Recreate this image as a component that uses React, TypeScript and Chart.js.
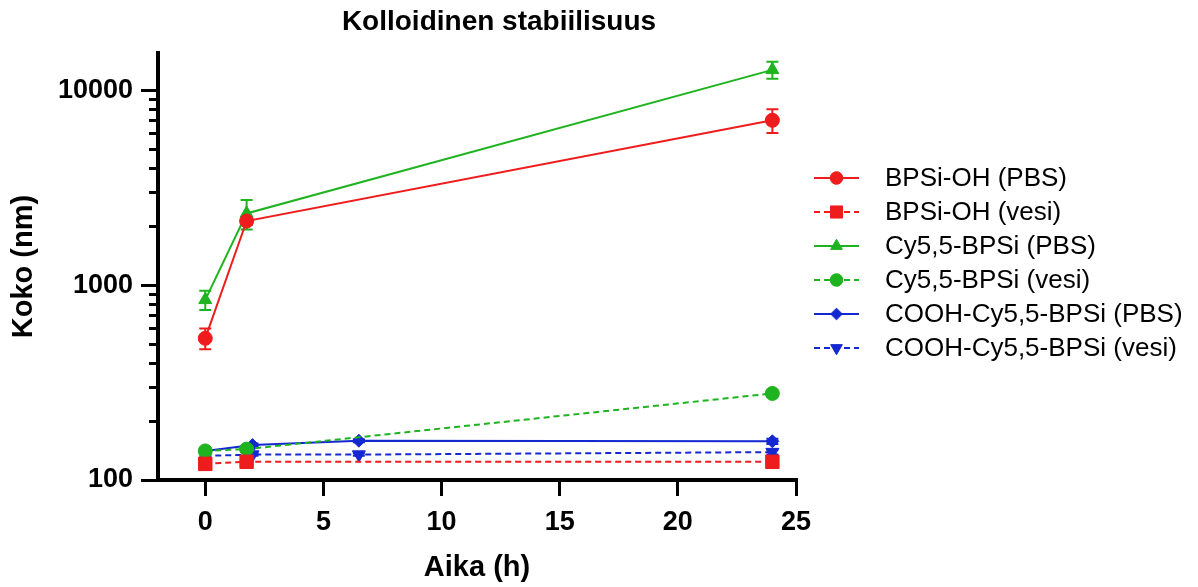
import React, { useEffect, useRef } from 'react';
import { Chart, registerables } from 'chart.js';
import { drawPoint } from 'chart.js/helpers';

Chart.register(...registerables);

// ---- data ----
const timesA = [0, 1.75, 24];
const timesB = [0, 2, 6.5, 24];

const bpsiOhPbs = [533, 2130, 7000];
const bpsiOhPbsErr = [65, 100, 980];
const bpsiOhVesi = [121, 124, 124];
const bpsiOhVesiErr = [3, 3, 3];
const cy55Pbs = [840, 2330, 12700];
const cy55PbsErr = [95, 400, 1280];
const cy55Vesi = [141, 144, 278];
const cy55VesiErr = [4, 4, 10];
const coohPbs = [141, 151, 159, 158];
const coohPbsErr = [2, 3, 3, 5];
const coohVesi = [133, 135, 135, 139];
const coohVesiErr = [2, 2, 2, 4];

const seriesLabels = [
  'BPSi-OH (PBS)',
  'BPSi-OH (vesi)',
  'Cy5,5-BPSi (PBS)',
  'Cy5,5-BPSi (vesi)',
  'COOH-Cy5,5-BPSi (PBS)',
  'COOH-Cy5,5-BPSi (vesi)',
];
const yTickLabels = [100, 1000, 10000];
const titleText = 'Kolloidinen stabiilisuus';
const xTitle = 'Aika (h)';
const yTitle = 'Koko (nm)';

const RED = '#ee1c1c';
const GREEN = '#1fb31f';
const BLUE = '#1428d2';
const FONT = "'Liberation Sans', Arial, Helvetica, sans-serif";

const pts = (xs: number[], ys: number[]) => xs.map((x, i) => ({ x, y: ys[i] }));

const errorBars = {
  id: 'errorBars',
  beforeDatasetsDraw(chart: any) {
    const { ctx } = chart;
    const xs = chart.scales.x;
    const ys = chart.scales.y;
    const dss = chart.data.datasets;
    ctx.save();
    for (let i = dss.length - 1; i >= 0; i--) {
      const ds = dss[i];
      if (!ds.errors) continue;
      ctx.strokeStyle = ds.borderColor;
      ctx.lineWidth = 2;
      ctx.setLineDash([]);
      ds.data.forEach((p: any, j: number) => {
        const e = ds.errors[j];
        const px = xs.getPixelForValue(p.x);
        const top = ys.getPixelForValue(p.y + e);
        const bot = ys.getPixelForValue(Math.max(p.y - e, 1));
        ctx.beginPath();
        ctx.moveTo(px, top);
        ctx.lineTo(px, bot);
        ctx.moveTo(px - 6, top);
        ctx.lineTo(px + 6, top);
        ctx.moveTo(px - 6, bot);
        ctx.lineTo(px + 6, bot);
        ctx.stroke();
      });
    }
    ctx.restore();
  },
};

const yTicksPlugin = {
  id: 'yTicks',
  afterDraw(chart: any) {
    const { ctx } = chart;
    const ys = chart.scales.y;
    const left = chart.chartArea.left;
    ctx.save();
    ctx.strokeStyle = '#000';
    ctx.lineWidth = 3;
    ctx.setLineDash([]);
    ys.ticks.forEach((t: any) => {
      const v = t.value;
      const exp = Math.floor(Math.log10(v) + 1e-9);
      const sig = v / Math.pow(10, exp);
      if (Math.abs(sig - Math.round(sig)) > 1e-6) return;
      const major = Math.round(sig) === 1;
      const len = major ? 17 : 9;
      const py = Math.round(ys.getPixelForValue(v)) + 0.5;
      ctx.beginPath();
      ctx.moveTo(left - len, py);
      ctx.lineTo(left + 1, py);
      ctx.stroke();
    });
    ctx.restore();
  },
};

const titlePlugin = {
  id: 'customTitle',
  afterDraw(chart: any) {
    const { ctx, chartArea } = chart;
    ctx.save();
    ctx.fillStyle = '#000';
    ctx.font = `bold 28px ${FONT}`;
    ctx.textAlign = 'center';
    ctx.textBaseline = 'middle';
    ctx.fillText(titleText, (chartArea.left + chartArea.right) / 2 + 22, 22);
    ctx.restore();
  },
};

const legendPlugin = {
  id: 'customLegend',
  afterDraw(chart: any) {
    const { ctx, chartArea } = chart;
    const x0 = chartArea.right + 18;
    const x1 = chartArea.right + 63;
    const tx = chartArea.right + 89;
    const y0 = 178;
    const dy = 34;
    ctx.save();
    chart.data.datasets.forEach((ds: any, i: number) => {
      const y = y0 + i * dy;
      ctx.strokeStyle = ds.borderColor;
      ctx.lineWidth = 2;
      ctx.setLineDash(ds.borderDash || []);
      ctx.beginPath();
      ctx.moveTo(x0, y);
      ctx.lineTo(x1, y);
      ctx.stroke();
      ctx.setLineDash([]);
      ctx.fillStyle = ds.pointBackgroundColor;
      ctx.strokeStyle = ds.pointBorderColor;
      ctx.lineWidth = 1;
      drawPoint(ctx, {
        pointStyle: ds.pointStyle,
        radius: ds.pointRadius * 0.9,
        rotation: ds.pointRotation || 0,
        borderWidth: 1,
      } as any, (x0 + x1) / 2, y);
      ctx.fillStyle = '#000';
      ctx.font = `26px ${FONT}`;
      ctx.textAlign = 'left';
      ctx.textBaseline = 'middle';
      ctx.fillText(ds.label, tx, y + 1);
    });
    ctx.restore();
  },
};

function mk(label: string, xs: number[], ys: number[], errs: number[], color: string, style: string, radius: number, dashed: boolean, rotation = 0) {
  return {
    label,
    data: pts(xs, ys),
    errors: errs,
    borderColor: color,
    backgroundColor: color,
    pointBackgroundColor: color,
    pointBorderColor: color,
    pointBorderWidth: 1,
    pointStyle: style,
    pointRadius: radius,
    pointRotation: rotation,
    pointHoverRadius: radius,
    borderWidth: 2,
    borderDash: dashed ? [6, 4] : [],
    tension: 0,
    fill: false,
  };
}

export default function App() {
  const ref = useRef<HTMLCanvasElement | null>(null);
  useEffect(() => {
    document.body.style.margin = '0';
    document.body.style.overflow = 'hidden';
    const canvas = ref.current!;
    const chart = new Chart(canvas, {
      type: 'line',
      data: {
        datasets: [
          mk(seriesLabels[0], timesA, bpsiOhPbs, bpsiOhPbsErr, RED, 'circle', 7, false),
          mk(seriesLabels[1], timesA, bpsiOhVesi, bpsiOhVesiErr, RED, 'rect', 9.5, true),
          mk(seriesLabels[2], timesA, cy55Pbs, cy55PbsErr, GREEN, 'triangle', 7.5, false),
          mk(seriesLabels[3], timesA, cy55Vesi, cy55VesiErr, GREEN, 'circle', 7, true),
          mk(seriesLabels[4], timesB, coohPbs, coohPbsErr, BLUE, 'rectRot', 6.5, false),
          mk(seriesLabels[5], timesB, coohVesi, coohVesiErr, BLUE, 'triangle', 7.5, true, 180),
        ] as any,
      },
      options: {
        responsive: false,
        animation: false,
        devicePixelRatio: 1,
        layout: { padding: { top: 53, right: 402, left: 0, bottom: 0 } },
        plugins: {
          legend: { display: false },
          title: { display: false },
          tooltip: { enabled: false },
        },
        scales: {
          x: {
            type: 'linear',
            min: -2,
            max: 25,
            afterFit(scale: any) { scale.height = 107; },
            ticks: {
              stepSize: 5,
              includeBounds: false,
              autoSkip: false,
              maxRotation: 0,
              padding: 10,
              color: '#000',
              font: { family: FONT, size: 27, weight: 'bold' },
            },
            grid: {
              drawOnChartArea: false,
              drawTicks: true,
              tickLength: 16,
              lineWidth: 3,
              color: '#000',
            },
            border: { display: true, width: 4, color: '#000' },
            title: {
              display: true,
              text: xTitle,
              color: '#000',
              font: { family: FONT, size: 29, weight: 'bold' },
              padding: { top: 0, bottom: 2 },
            },
          },
          y: {
            type: 'logarithmic',
            min: 100,
            max: 15500,
            afterFit(scale: any) { scale.width = 158; },
            ticks: {
              autoSkip: false,
              padding: 25,
              color: '#000',
              font: { family: FONT, size: 27, weight: 'bold' },
              callback: (v: any) => (yTickLabels.includes(Number(v)) ? String(v) : ''),
            },
            grid: { display: false, drawTicks: false },
            border: { display: true, width: 4, color: '#000' },
            title: {
              display: true,
              text: yTitle,
              color: '#000',
              font: { family: FONT, size: 29, weight: 'bold' },
              padding: { top: 7, bottom: 0 },
            },
          },
        },
      } as any,
      plugins: [errorBars, yTicksPlugin, titlePlugin, legendPlugin],
    });
    return () => chart.destroy();
  }, []);
  return (
    <div style={{ width: 1198, height: 587, position: 'relative', background: '#fff' }}>
      <canvas ref={ref} width={1198} height={587} style={{ display: 'block' }} />
    </div>
  );
}
